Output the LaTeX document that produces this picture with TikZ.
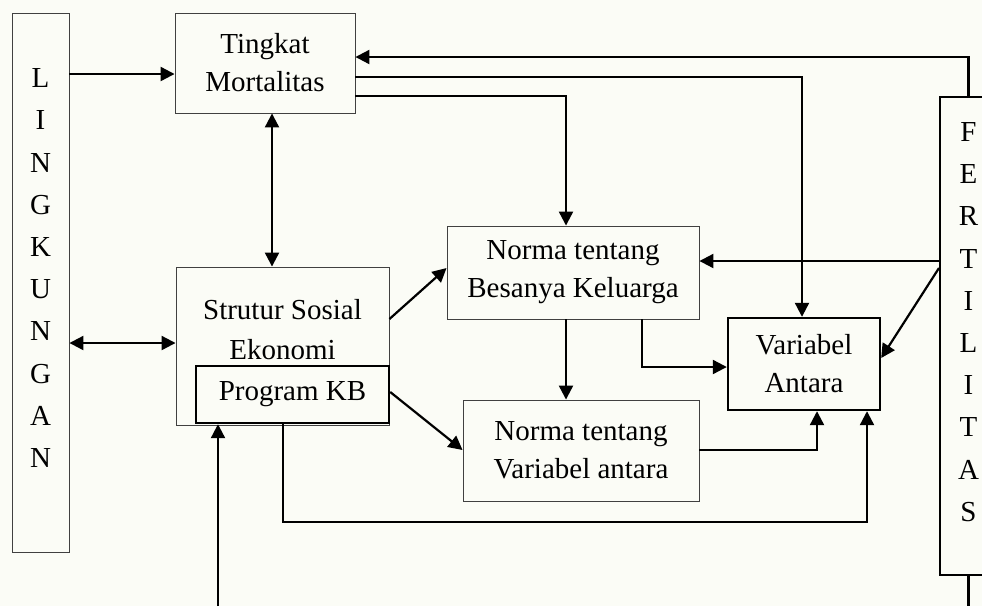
\documentclass[tikz,border=0pt]{standalone}
\usepackage{fontspec}
\setmainfont{Liberation Serif}
\usetikzlibrary{arrows.meta, positioning, calc}

\definecolor{paper}{RGB}{251,252,246}

\begin{document}
\begin{tikzpicture}[x=1pt, y=-1pt,
    box/.style={draw=black!75, line width=0.9pt, fill=paper, inner sep=0pt, align=center, font=\fontsize{29}{38}\selectfont},
    boldbox/.style={box, draw=black, line width=2.4pt},
    lbl/.style={inner sep=0pt, align=center, font=\fontsize{29}{40}\selectfont},
    vert/.style={inner sep=0pt, align=center, font=\fontsize{29}{42.2}\selectfont},
    link/.style={line width=2.2pt, -{Triangle[length=14pt, width=14pt]}},
    twoway/.style={line width=2.2pt, {Triangle[length=14pt, width=14pt]}-{Triangle[length=14pt, width=14pt]}},
    wire/.style={line width=2.2pt}
]
    % Page
    \fill[paper] (0,0) rectangle (982,606);
    \useasboundingbox (0,0) rectangle (982,606);

    % Boxes
    \node[box, minimum width=57pt, minimum height=539pt] (ling) at (40.5,282.5) {};
    \node[vert] (linglbl) at (40.5,268) {L\\I\\N\\G\\K\\U\\N\\G\\A\\N};
    \node[box, minimum width=180pt, minimum height=100pt] (ting) at (265,63) {Tingkat\\Mortalitas};
    \node[box, minimum width=213pt, minimum height=158pt] (strut) at (282.5,346) {};
    \node[lbl] (strutlbl) at (282.5,330) {Strutur Sosial\\Ekonomi};
    \node[boldbox, minimum width=193pt, minimum height=57pt] (kb) at (292.5,394.5) {Program KB};
    \node[box, minimum width=252pt, minimum height=93pt] (nbk) at (573,272.5) {Norma tentang\\Besanya Keluarga};
    \node[box, minimum width=236pt, minimum height=101pt] (nva) at (581,450.5) {Norma tentang\\Variabel antara};
    \node[boldbox, minimum width=152pt, minimum height=92pt] (va) at (804,364) {Variabel\\Antara};
    \node[boldbox, line width=2pt, minimum width=57pt, minimum height=478pt] (fert) at (968.5,336) {};
    \node[vert] (fertlbl) at (968.5,322) {F\\E\\R\\T\\I\\L\\I\\T\\A\\S};

    % Free ends
    \coordinate (kbin) at (218,606);
    \coordinate (fertout) at (968.5,606);

    % Connectors
    \draw[link] (ling.east |- 0,74) -- (ting.west |- 0,74);
    \draw[twoway] (ting.south -| 272,0) -- (strut.north -| 272,0);
    \draw[twoway] (ling.east |- 0,343) -- (strut.west |- 0,343);
    \draw[link] (fert.north) |- (ting.east |- 0,57);
    \draw[link] (ting.east |- 0,77) -| (va.north -| 802,0);
    \draw[link] (ting.east |- 0,96) -| (nbk.north -| 566,0);
    \draw[link] (strut.east |- 0,319) -- (nbk.west |- 0,268);
    \draw[link] (kb.east |- 0,392) -- (nva.west |- 0,450);
    \draw[link] (fert.west |- 0,261) -- (nbk.east |- 0,261);
    \draw[link] (fert.west |- 0,268) -- (va.east |- 0,358);
    \draw[link] (nbk.south -| 566,0) -- (nva.north -| 566,0);
    \draw[link] (nbk.south -| 642,0) |- (va.west |- 0,367);
    \draw[link] (nva.east |- 0,450) -| (va.south -| 817,0);
    \draw[link] (kb.south -| 283,0) -- ++(0,98) -| (va.south -| 867,0);
    \draw[link] (kbin) -- (kb.south -| kbin);
    \draw[wire] (fert.south) -- (fertout);
\end{tikzpicture}
\end{document}
